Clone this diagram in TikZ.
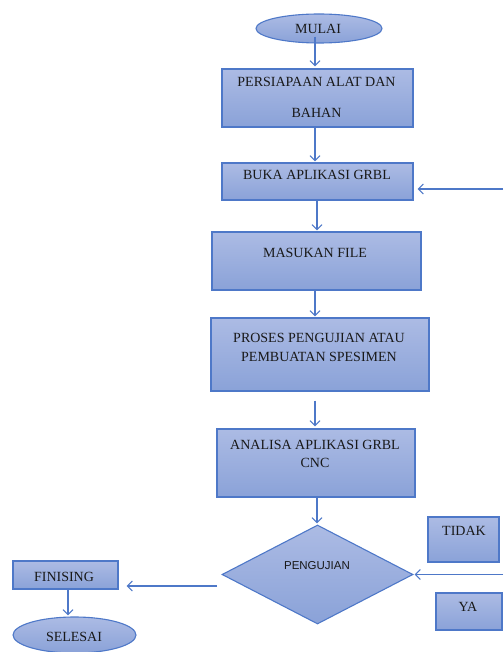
\documentclass[tikz,border=0pt]{standalone}
\usepackage{fontspec}
\setmainfont{Liberation Serif}
\newfontfamily\sansf{Liberation Sans}
\usetikzlibrary{shapes.geometric,arrows.meta}
\definecolor{bordc}{RGB}{78,120,200}
\definecolor{topc}{RGB}{172,187,228}
\definecolor{botc}{RGB}{138,162,216}
\definecolor{txtc}{RGB}{25,25,25}
\tikzset{
  procbox/.style={draw=bordc, line width=1.1pt, top color=topc, bottom color=botc, inner sep=0pt, rectangle},
  termbox/.style={draw=bordc, line width=1.1pt, top color=topc, bottom color=botc, inner sep=0pt, ellipse},
  decbox/.style={draw=bordc, line width=1.1pt, top color=topc, bottom color=botc, inner sep=0pt, diamond},
  lbl/.style={font=\fontsize{14}{16}\selectfont, text=txtc, inner sep=0pt},
  slbl/.style={font=\sansf\fontsize{11.5}{13}\selectfont, text=txtc, inner sep=0pt},
  flow/.style={draw=bordc, line width=1.1pt, -{Straight Barb[length=5pt,width=10pt,line width=1.1pt]}}
}
\begin{document}
\begin{tikzpicture}[x=1pt,y=-1pt]
\useasboundingbox (0,0) rectangle (503,652);
% shapes
\node[termbox, minimum width=126pt, minimum height=29pt] (mulai) at (319,28.5) {};
\node[procbox, minimum width=191pt, minimum height=58pt] (persiapan) at (317.5,98) {};
\node[procbox, minimum width=191pt, minimum height=37pt] (buka) at (317.5,181.5) {};
\node[procbox, minimum width=209pt, minimum height=58pt] (masukan) at (316.5,261) {};
\node[procbox, minimum width=218pt, minimum height=73pt] (proses) at (320,354.5) {};
\node[procbox, minimum width=198pt, minimum height=68pt] (analisa) at (316,463) {};
\node[decbox, aspect=1.93, minimum width=191pt, minimum height=99pt] (uji) at (317.5,574.5) {};
\node[procbox, minimum width=71pt, minimum height=45pt] (tidak) at (463.5,539.5) {};
\node[procbox, minimum width=66pt, minimum height=37pt] (ya) at (469,611.5) {};
\node[procbox, minimum width=105pt, minimum height=28pt] (finising) at (65.5,575) {};
\node[termbox, minimum width=123pt, minimum height=36pt] (selesai) at (74.5,635) {};
% texts
\node[lbl] (tmulai) at (318,28.5) {MULAI};
\node[lbl] (tpers1) at (316.5,82) {PERSIAPAAN ALAT DAN};
\node[lbl] (tpers2) at (316.5,113) {BAHAN};
\node[lbl] (tbuka) at (317,175) {BUKA APLIKASI GRBL};
\node[lbl] (tmas) at (315,253) {MASUKAN FILE};
\node[lbl] (tpro1) at (319,338) {PROSES PENGUJIAN ATAU};
\node[lbl] (tpro2) at (319,357) {PEMBUATAN SPESIMEN};
\node[lbl] (tana1) at (315,445) {ANALISA APLIKASI GRBL};
\node[lbl] (tana2) at (315,463) {CNC};
\node[slbl] (tuji) at (317,566) {PENGUJIAN};
\node[lbl] (ttidak) at (464,531) {TIDAK};
\node[lbl] (tya) at (468,607) {YA};
\node[lbl] (tfin) at (64,577) {FINISING};
\node[lbl] (tsel) at (74,637) {SELESAI};
% connectors
\coordinate (fbA) at (503,189);
\coordinate (fbB) at (503,574.5);
\coordinate (dl) at (217,586);
\draw[flow] ([xshift=-4pt,yshift=7pt]mulai.south) -- ([xshift=-4pt,yshift=2pt]mulai.south |- persiapan.north);
\draw[flow] ([xshift=-2.5pt]persiapan.south) -- ([xshift=-2.5pt,yshift=1pt]persiapan.south |- buka.north);
\draw[flow] ([xshift=-0.5pt]buka.south) -- ([xshift=-0.5pt,yshift=1pt]buka.south |- masukan.north);
\draw[flow] ([xshift=-1.5pt]masukan.south) -- ([xshift=-1.5pt,yshift=1pt]masukan.south |- proses.north);
\draw[flow] ([xshift=-5pt,yshift=-9pt]proses.south) -- ([xshift=-5pt,yshift=2pt]proses.south |- analisa.north);
\draw[flow] ([xshift=1pt]analisa.south) -- ([xshift=1pt,yshift=1pt]analisa.south |- uji.north);
\draw[flow] (fbA) -- ([xshift=4pt]fbA -| buka.east);
\draw[flow] (fbB) -- ([xshift=1pt]fbB -| uji.east);
\draw[flow] (dl) -- ([xshift=8pt]dl -| finising.east);
\draw[flow] ([xshift=2.5pt]finising.south) -- ([xshift=2.5pt,yshift=1pt]finising.south |- selesai.north);
\end{tikzpicture}
\end{document}
